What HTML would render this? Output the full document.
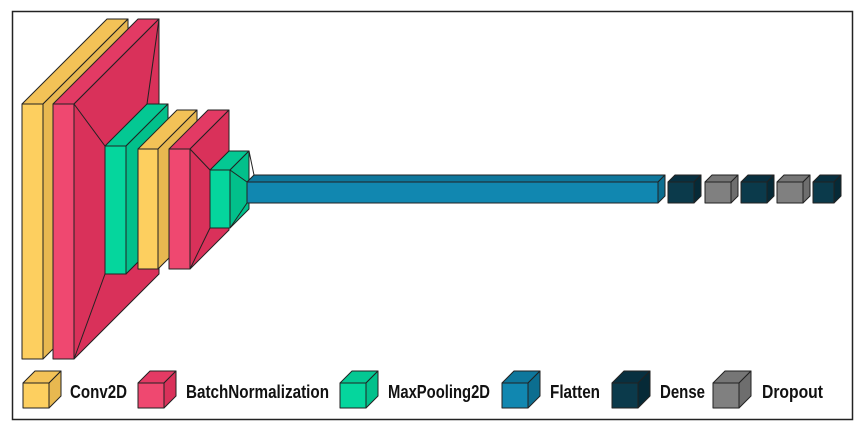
<!DOCTYPE html>
<html><head><meta charset="utf-8"><style>html,body{margin:0;padding:0;background:#fff}svg{display:block}</style></head>
<body>
<svg width="860" height="429" viewBox="0 0 860 429" xmlns="http://www.w3.org/2000/svg">
<rect x="0" y="0" width="860" height="429" fill="#fff"/>
<rect x="12.5" y="11.5" width="840" height="408" fill="none" stroke="#222" stroke-width="1.5"/>
<g stroke="#222" stroke-width="1" stroke-linejoin="round">
<!-- Conv1 -->
<polygon points="22,104 107,19 128,19 43,104" fill="#f3c257"/>
<polygon points="43,104 128,19 128,274 43,359" fill="#e8b850"/>
<rect x="22" y="104" width="21" height="255" fill="#fdcf5f"/>
<!-- BN1 -->
<polygon points="53,104 138,19 159,19 74,104" fill="#e33a64"/>
<polygon points="74,104 159,19 159,274 74,359" fill="#d9315a"/>
<rect x="53" y="104" width="21" height="255" fill="#ef4870"/>
<line x1="74" y1="104" x2="105" y2="146"/>
<line x1="159" y1="19" x2="147" y2="104"/>
<line x1="74" y1="359" x2="105" y2="274"/>
<!-- MP1 -->
<polygon points="105,146 147,104 168,104 126,146" fill="#04c893"/>
<polygon points="126,146 168,104 168,232 126,274" fill="#02c08b"/>
<rect x="105" y="146" width="21" height="128" fill="#05d69d"/>
<!-- Conv2 -->
<polygon points="138,149 177,110 197,110 158,149" fill="#f3c257"/>
<polygon points="158,149 197,110 197,230 158,269" fill="#e8b850"/>
<rect x="138" y="149" width="20" height="120" fill="#fdcf5f"/>
<!-- BN2 -->
<polygon points="169,149 208,110 229,110 190,149" fill="#e33a64"/>
<polygon points="190,149 229,110 229,230 190,269" fill="#d9315a"/>
<rect x="169" y="149" width="21" height="120" fill="#ef4870"/>
<line x1="190" y1="149" x2="210" y2="170"/>
<line x1="229" y1="110" x2="229" y2="151"/>
<line x1="190" y1="269" x2="210" y2="228"/>
<!-- MP2 -->
<polygon points="210,170 229,151 249,151 230,170" fill="#04c893"/>
<polygon points="230,170 249,151 249,209 230,228" fill="#02c08b"/>
<rect x="210" y="170" width="20" height="58" fill="#05d69d"/>
<line x1="230" y1="170" x2="247" y2="182"/>
<line x1="249" y1="151" x2="254" y2="175"/>
<line x1="230" y1="228" x2="247" y2="203"/>
<!-- Flatten -->
<polygon points="247,182 254,175 665,175 658,182" fill="#0e779c"/>
<polygon points="658,182 665,175 665,196 658,203" fill="#0c6e90"/>
<rect x="247" y="182" width="411" height="21" fill="#1187b0"/>
<!-- Dense / Dropout -->
<polygon points="668,182 675,175 701,175 694,182" fill="#083040"/>
<polygon points="694,182 701,175 701,196 694,203" fill="#062a37"/>
<rect x="668" y="182" width="26" height="21" fill="#0b3a4b"/>
<polygon points="705,182 712,175 738,175 731,182" fill="#767676"/>
<polygon points="731,182 738,175 738,196 731,203" fill="#6e6e6e"/>
<rect x="705" y="182" width="26" height="21" fill="#808080"/>
<polygon points="741,182 748,175 774,175 767,182" fill="#083040"/>
<polygon points="767,182 774,175 774,196 767,203" fill="#062a37"/>
<rect x="741" y="182" width="26" height="21" fill="#0b3a4b"/>
<polygon points="777,182 784,175 810,175 803,182" fill="#767676"/>
<polygon points="803,182 810,175 810,196 803,203" fill="#6e6e6e"/>
<rect x="777" y="182" width="26" height="21" fill="#808080"/>
<polygon points="813,182 820,175 841,175 834,182" fill="#083040"/>
<polygon points="834,182 841,175 841,196 834,203" fill="#062a37"/>
<rect x="813" y="182" width="21" height="21" fill="#0b3a4b"/>
</g>
<!-- Legend -->
<g stroke="#222" stroke-width="1" stroke-linejoin="round">
<g transform="translate(23,383)"><polygon points="0,0 12,-12 38,-12 26,0" fill="#f3c257"/><polygon points="26,0 38,-12 38,13 26,25" fill="#e8b850"/><rect x="0" y="0" width="26" height="25" fill="#fdcf5f"/></g>
<g transform="translate(138,383)"><polygon points="0,0 12,-12 38,-12 26,0" fill="#e33a64"/><polygon points="26,0 38,-12 38,13 26,25" fill="#d9315a"/><rect x="0" y="0" width="26" height="25" fill="#ef4870"/></g>
<g transform="translate(340,383)"><polygon points="0,0 12,-12 38,-12 26,0" fill="#04c893"/><polygon points="26,0 38,-12 38,13 26,25" fill="#02c08b"/><rect x="0" y="0" width="26" height="25" fill="#05d69d"/></g>
<g transform="translate(502,383)"><polygon points="0,0 12,-12 38,-12 26,0" fill="#0e779c"/><polygon points="26,0 38,-12 38,13 26,25" fill="#0c6e90"/><rect x="0" y="0" width="26" height="25" fill="#1187b0"/></g>
<g transform="translate(612,383)"><polygon points="0,0 12,-12 38,-12 26,0" fill="#083040"/><polygon points="26,0 38,-12 38,13 26,25" fill="#062a37"/><rect x="0" y="0" width="26" height="25" fill="#0b3a4b"/></g>
<g transform="translate(713,383)"><polygon points="0,0 12,-12 38,-12 26,0" fill="#767676"/><polygon points="26,0 38,-12 38,13 26,25" fill="#6e6e6e"/><rect x="0" y="0" width="26" height="25" fill="#808080"/></g>
</g>
<g font-family="Liberation Sans, sans-serif" font-size="18" fill="#111" font-weight="bold">
<text x="70" y="398" textLength="57" lengthAdjust="spacingAndGlyphs">Conv2D</text>
<text x="186" y="398" textLength="143" lengthAdjust="spacingAndGlyphs">BatchNormalization</text>
<text x="388" y="398" textLength="102" lengthAdjust="spacingAndGlyphs">MaxPooling2D</text>
<text x="550" y="398" textLength="50" lengthAdjust="spacingAndGlyphs">Flatten</text>
<text x="660" y="398" textLength="45" lengthAdjust="spacingAndGlyphs">Dense</text>
<text x="762" y="398" textLength="61" lengthAdjust="spacingAndGlyphs">Dropout</text>
</g>
</svg>
</body></html>
